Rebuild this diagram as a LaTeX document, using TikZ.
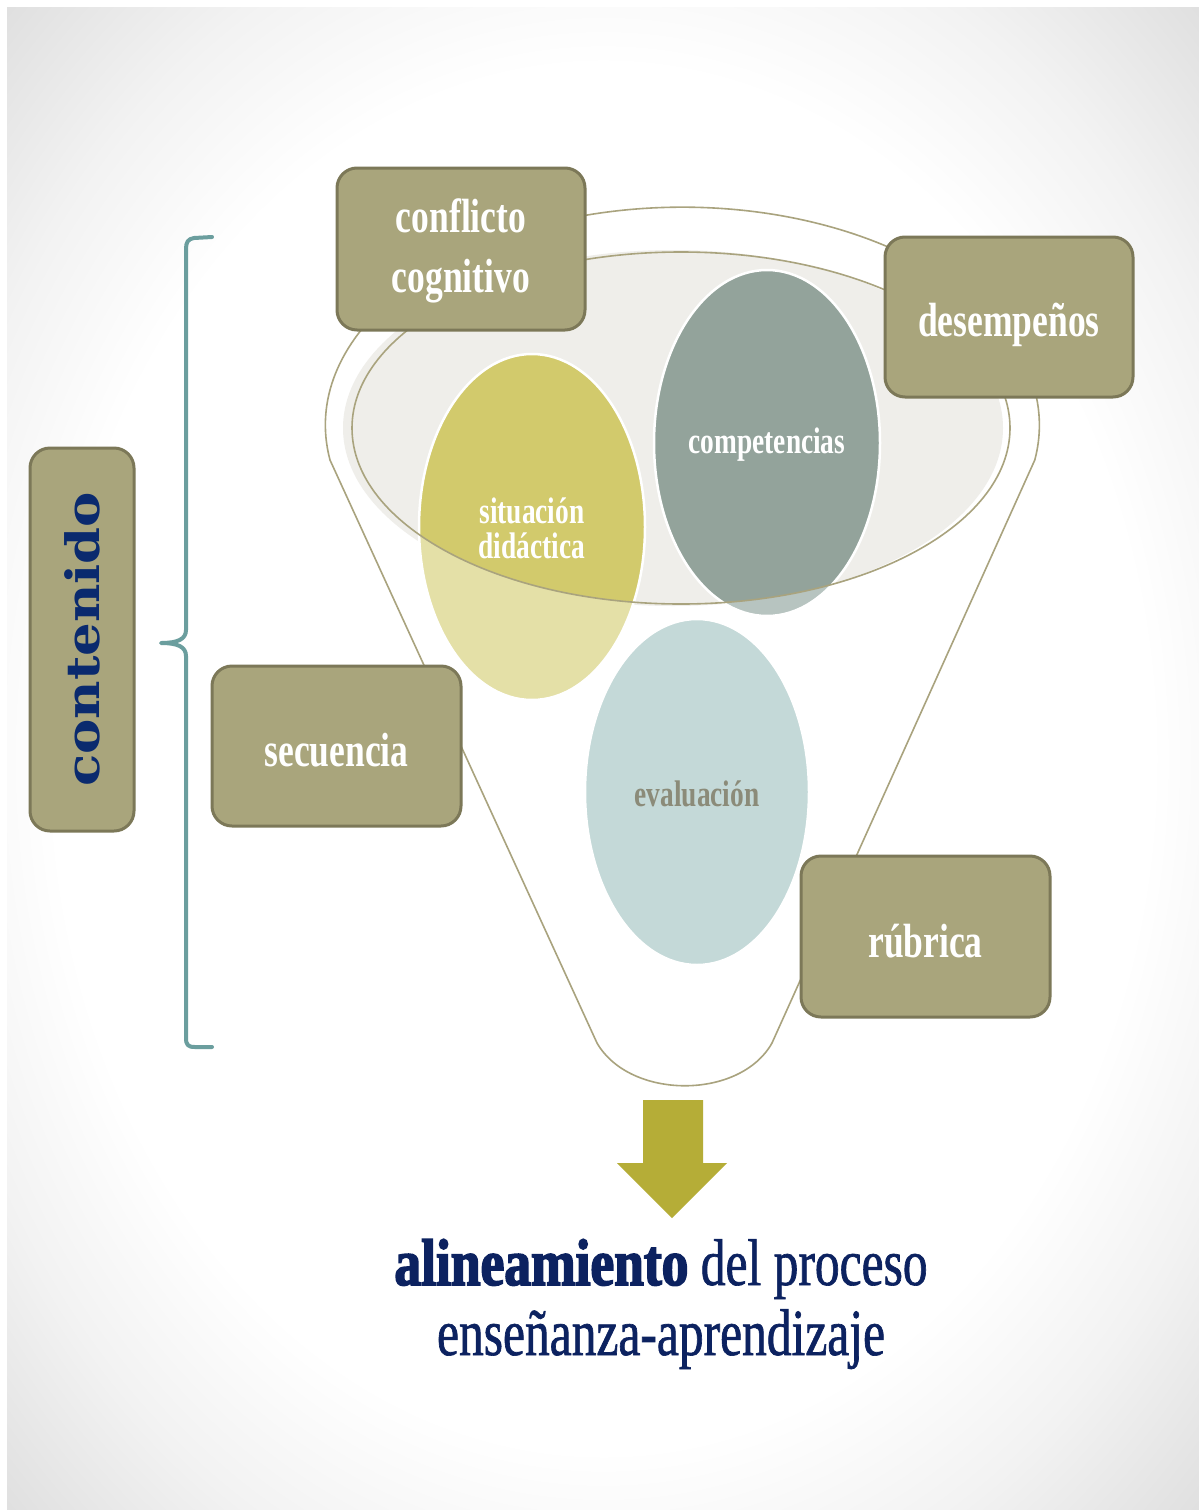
\documentclass[tikz,border=0pt]{standalone}
\usepackage{fontspec}
\setmainfont{Liberation Serif}
\newfontfamily\condfont[FakeStretch=0.74]{Liberation Serif}
\newfontfamily\titlereg[FakeStretch=0.75,FakeBold=1]{Liberation Serif}
\newfontfamily\titlebold[FakeStretch=0.81,BoldFeatures={FakeBold=2.5}]{Liberation Serif}
\newfontfamily\slabfont[FakeStretch=1.15]{DejaVu Serif}
\usetikzlibrary{shapes.geometric}
\definecolor{boxfill}{HTML}{A9A57C}
\definecolor{boxline}{HTML}{7C7858}
\definecolor{yelsat}{HTML}{D2CA6C}
\definecolor{yellig}{HTML}{E4E0A7}
\definecolor{compsat}{HTML}{93A39B}
\definecolor{complig}{HTML}{B7C4C0}
\definecolor{evalfill}{HTML}{C4D9D8}
\definecolor{evaltext}{HTML}{8B8B79}
\definecolor{innerfill}{HTML}{EFEEEA}
\definecolor{funnelline}{HTML}{A9A37E}
\definecolor{braceteal}{HTML}{6B9E9E}
\definecolor{arrowfill}{HTML}{B5AD37}
\definecolor{navy}{HTML}{0C2260}
\definecolor{navyb}{HTML}{0A2A6E}
\pgfdeclareradialshading{vignette}{\pgfpointorigin}{color(0bp)=(white);color(23bp)=(white);color(29bp)=(black!5);color(36bp)=(black!13);color(50bp)=(black!13)}
\tikzset{
  boxnode/.style={draw=boxline, line width=3pt, fill=boxfill, rounded corners=20pt, inner sep=0pt},
  boxtext/.style={text=white, align=center, inner sep=0pt,
    font=\condfont\bfseries\fontsize{48}{60}\selectfont},
  blobtext/.style={text=white, align=center, inner sep=0pt,
    font=\condfont\bfseries\fontsize{37}{37}\selectfont},
  funnelstroke/.style={draw=funnelline, line width=1.6pt},
  titletext/.style={anchor=base, text=navy, inner sep=0pt},
}
\begin{document}
\begin{tikzpicture}[x=1pt,y=-1pt]
\useasboundingbox (0,0) rectangle (1199,1510);
\fill[white] (0,0) rectangle (1199,1510);
\shade[shading=vignette] (7,7) rectangle (1199,1510);
% funnel outline: top arc of rim, sides, rounded bottom
\draw[funnelstroke, fill=white] (330,460)
  arc[start angle=170.8, end angle=369.2, x radius=357, y radius=218]
  -- (772,1043) .. controls (740,1100) and (630,1100) .. (597,1043) -- cycle;
% inner ellipse fill
\fill[innerfill] (673,428) ellipse [x radius=330, y radius=178];
% blobs light parts
\fill[yellig] (532,527) ellipse [x radius=113, y radius=173];
\fill[complig] (767,443) ellipse [x radius=113, y radius=173];
\begin{scope}
  \clip (681,428) ellipse [x radius=329, y radius=176];
  \fill[yelsat] (532,527) ellipse [x radius=113, y radius=173];
  \fill[compsat] (767,443) ellipse [x radius=113, y radius=173];
\end{scope}
\draw[white, line width=2.5pt] (532,527) ellipse [x radius=113, y radius=173];
\draw[white, line width=2.5pt] (767,443) ellipse [x radius=113, y radius=173];
\draw[funnelstroke] (681,428) ellipse [x radius=329, y radius=176];
% evaluacion
\fill[evalfill] (697,792) ellipse [x radius=112, y radius=173];
\draw[white, line width=2.5pt] (697,792) ellipse [x radius=112, y radius=173];
% blob texts
\node[blobtext] (sit) at (532,528) {situación\\[-2pt]didáctica};
\node[blobtext] (comp) at (767,445) {competencias};
\node[blobtext, text=evaltext] (eval) at (697,794) {evaluación};
% boxes
\node[boxnode, minimum width=248pt, minimum height=162pt] (conf) at (461,249) {};
\node[boxtext] (conft) at (461,251) {conflicto\\cognitivo};
\node[boxnode, minimum width=248pt, minimum height=160pt] (des) at (1009,317) {};
\node[boxtext] (dest) at (1009,325) {desempeños};
\node[boxnode, minimum width=249pt, minimum height=160pt] (sec) at (336.5,746) {};
\node[boxtext] (sect) at (336.5,750) {secuencia};
\node[boxnode, minimum width=249pt, minimum height=161pt] (rub) at (925.5,936.5) {};
\node[boxtext] (rubt) at (925.5,941) {rúbrica};
\node[boxnode, minimum width=104pt, minimum height=383pt] (contbox) at (82,639.5) {};
\node[rotate=90, text=navyb, inner sep=0pt, font=\slabfont\bfseries\fontsize{46}{46}\selectfont] (cont) at (contbox.center) {contenido};
% brace
\draw[braceteal, line width=4pt, line cap=round, line join=round]
  (212,237) -- (194,238) .. controls (188,239) and (186,242) .. (186,249)
  -- (186,630) .. controls (186,639) and (178,643) .. (161,643)
  .. controls (178,643) and (186,647) .. (186,656)
  -- (186,1038) .. controls (186,1045) and (188,1047) .. (195,1047) -- (212,1047);
% arrow
\fill[arrowfill] (643,1100) -- (703,1100) -- (703,1163) -- (727,1163) -- (672,1218)
  -- (617,1163) -- (643,1163) -- cycle;
% bottom text
\node[titletext] (line1) at (661,1285) {{\titlebold\bfseries\fontsize{66}{66}\selectfont alineamiento}{\titlereg\fontsize{66}{66}\selectfont\ del proceso}};
\node[titletext, font=\titlereg\fontsize{66}{66}\selectfont] (line2) at (661,1355) {enseñanza-aprendizaje};
\end{tikzpicture}
\end{document}
